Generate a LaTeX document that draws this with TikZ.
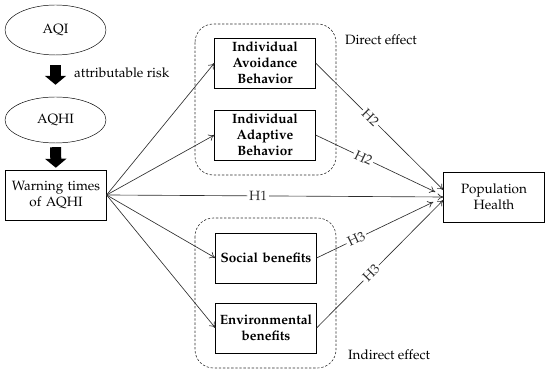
\documentclass[tikz,border=0pt]{standalone}
\usepackage[T1]{fontenc}
\usepackage{mathpazo}
\usepackage{tikz}
\usetikzlibrary{arrows.meta,positioning,calc,shapes.geometric}
\definecolor{lineGray}{RGB}{45,45,45}

\begin{document}
\begin{tikzpicture}[x=0.03cm, y=0.03cm,
    every node/.style={font=\fontsize{11.5}{14}\selectfont},
    oval/.style={draw, ellipse, minimum width=3.03cm, minimum height=1.5cm},
    factor/.style={draw, rectangle, align=center, minimum width=3cm, minimum height=1.5cm, text width=2.95cm, inner sep=1pt},
    mediator/.style={factor, font=\fontsize{11.5}{13.8}\selectfont\bfseries},
    blockarrow/.style={line width=0.33cm, -{Triangle[width=0.63cm, length=0.27cm]}},
    path/.style={lineGray, line width=0.55pt, -{To[length=5pt, width=6pt]}},
    group/.style={lineGray, line width=0.5pt, dash pattern=on 2pt off 1.5pt, rounded corners=0.55cm},
    hlabel/.style={sloped, fill=white, inner sep=1.5pt}]
    \useasboundingbox (0,0) rectangle (550,374);

    % Left chain
    \node[oval] (aqi) at (55.5,344) {AQI};
    \node[oval, minimum height=1.38cm] (aqhi) at (55.5,254) {AQHI};
    \node[factor] (warn) at (56,179) {Warning times\\ of AQHI};
    \draw[blockarrow, shorten <=0.3cm, shorten >=0.36cm] (aqi) -- (aqhi);
    \draw[blockarrow, shorten <=0.12cm, shorten >=0.06cm] (aqhi) -- (warn);
    \node[anchor=west] (risk) at (70,301) {attributable risk};

    % Direct effect group
    \draw[group] (195,350) rectangle (336,199);
    \node[anchor=west] (direct) at (341,334) {Direct effect};
    \node[mediator] (avoid) at (265,311) {Individual\\ Avoidance\\ Behavior};
    \node[mediator] (adapt) at (265,239) {Individual\\ Adaptive\\ Behavior};

    % Indirect effect group
    \draw[group] (195,156) rectangle (336,6);
    \node[anchor=west] (indirect) at (344,19) {Indirect effect};
    \node[mediator] (social) at (266,116) {Social benefits};
    \node[mediator] (env) at (266,46) {Environmental\\ benefits};

    % Outcome
    \node[factor] (ph) at (494,177) {Population\\ Health};
    \coordinate (ph1) at ($(ph.west)+(0,7)$);
    \coordinate (ph2) at ($(ph.west)+(-8,5)$);
    \coordinate (ph4) at ($(ph.west)+(-10,-5)$);
    \coordinate (ph5) at ($(ph.west)+(0,-3)$);

    % Paths
    \draw[path] (warn.east) -- (avoid.west);
    \draw[path] (warn.east) -- (adapt.west);
    \draw[path] (warn.east) -- (social.west);
    \draw[path] (warn.east) -- (env.west);
    \draw[path] (warn.east) -- node[hlabel, pos=0.45] {H1} (ph.west);
    \draw[path] (avoid.east) -- node[hlabel, pos=0.43] {H2} (ph1);
    \draw[path] (adapt.east) -- node[hlabel, pos=0.4] {H2} (ph2);
    \draw[path] (social.east) -- node[hlabel, pos=0.34] {H3} (ph4);
    \draw[path] (env.east) -- node[hlabel, pos=0.43] {H3} (ph5);
  \end{tikzpicture}
\end{document}
